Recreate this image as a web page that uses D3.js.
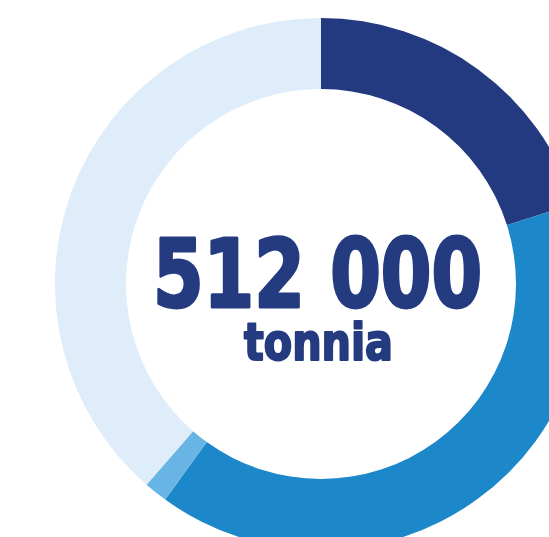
<!DOCTYPE html>
<html><head><meta charset="utf-8">
<script src="https://cdn.jsdelivr.net/npm/d3@7"></script>
<style>html,body{margin:0;padding:0;background:#fff;overflow:hidden}</style>
</head><body>
<svg id="c" width="549" height="537"></svg>
<script>
const categories = ["A", "B", "C", "D"];
const values = [103000, 204000, 7300, 197700];
const colors = ["#233a80", "#1c87c9", "#68b5e5", "#deedf9"];
const totalLabel = "512 000";
const unitLabel = "tonnia";

const svg = d3.select("#c");
const cx = 321, cy = 284, R = 266, r = 195;
const g = svg.append("g").attr("transform", `translate(${cx},${cy})`);
const pie = d3.pie().sort(null).value(d => d.v);
const arc = d3.arc().innerRadius(r).outerRadius(R);
const data = categories.map((c, i) => ({c, v: values[i], col: colors[i]}));
g.selectAll("path").data(pie(data)).enter().append("path")
  .attr("d", arc).attr("fill", d => d.data.col);

svg.append("text").attr("x", 317.5).attr("y", 307).attr("text-anchor", "middle")
  .attr("font-family", "DejaVu Sans Condensed, DejaVu Sans").attr("font-weight", "bold")
  .attr("font-size", 94).attr("fill", "#243b80")
  .attr("stroke", "#243b80").attr("stroke-width", 3).attr("stroke-linejoin", "round")
  .attr("textLength", 329).attr("lengthAdjust", "spacingAndGlyphs")
  .text(totalLabel);
svg.append("text").attr("x", 318.5).attr("y", 360).attr("text-anchor", "middle")
  .attr("font-family", "DejaVu Sans Condensed, DejaVu Sans").attr("font-weight", "bold")
  .attr("font-size", 51).attr("fill", "#243b80")
  .attr("stroke", "#243b80").attr("stroke-width", 2).attr("stroke-linejoin", "round")
  .attr("textLength", 149).attr("lengthAdjust", "spacingAndGlyphs")
  .text(unitLabel);
</script>
</body></html>
